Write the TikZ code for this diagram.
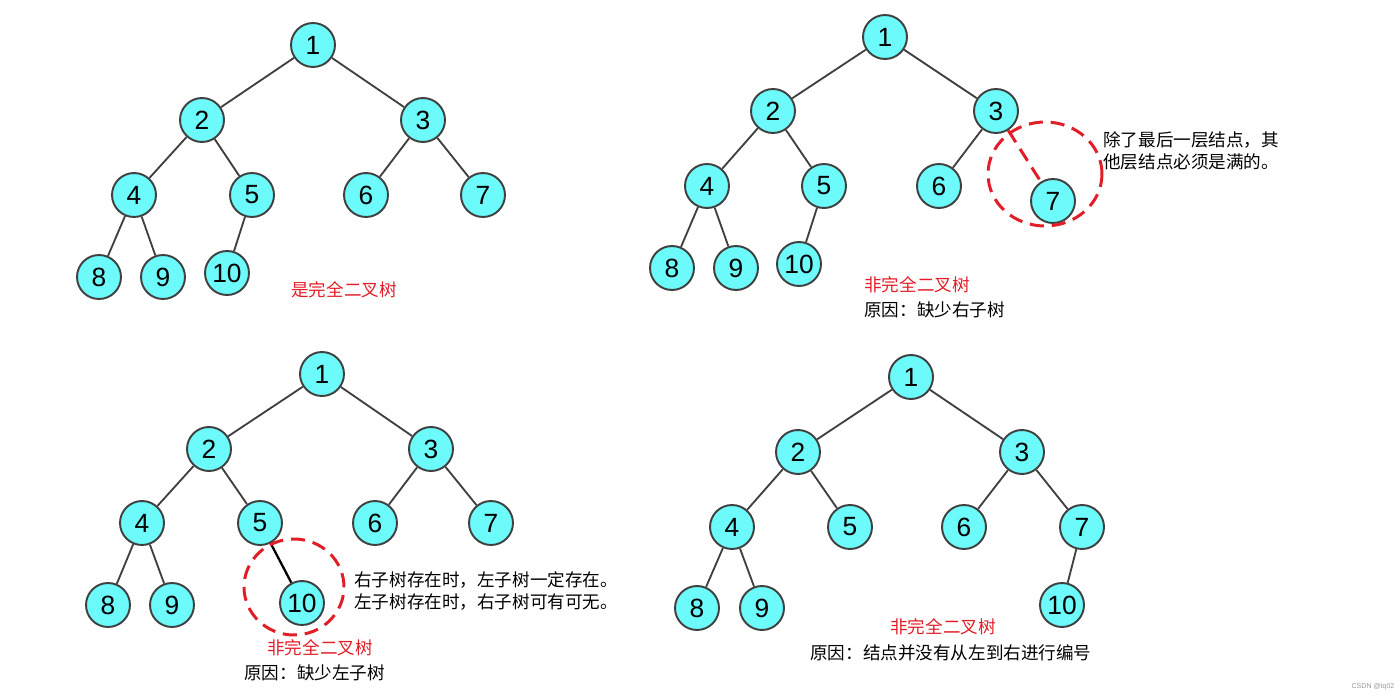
\documentclass[tikz,border=0pt]{standalone}
\usepackage{fontspec}
\setmainfont{Liberation Sans}
\newfontfamily\cjk{Noto Sans CJK SC}
\usetikzlibrary{shapes.geometric}
\definecolor{nodecyan}{RGB}{108,250,250}
\definecolor{edgegray}{RGB}{64,64,64}
\definecolor{markred}{RGB}{225,30,40}

\begin{document}
\begin{tikzpicture}[
  x=0.02cm, y=-0.02cm,
  knot/.style={circle, draw=edgegray, line width=1.1pt, fill=nodecyan,
    minimum size=0.88cm, inner sep=0pt, font=\fontsize{15}{15}\selectfont},
  link/.style={draw=edgegray, line width=1.05pt},
  ring/.style={ellipse, draw=markred, line width=1.7pt,
    dash pattern=on 8pt off 4.5pt, inner sep=0pt},
  note/.style={font=\cjk\fontsize{10}{12.6}\selectfont, align=left, inner sep=0pt},
  verdict/.style={note, text=markred},
]
\useasboundingbox (0,0) rectangle (1400,696);

% ---- tree (a): complete binary tree
\foreach \i/\x/\y in {1/313/45, 2/202/120, 3/423/120, 4/134/195, 5/252/195,
    6/366/195, 7/483/195, 8/99/277, 9/163/277, 10/227/273}
  \node[knot] (a\i) at (\x,\y) {\i};
\foreach \p/\c in {1/2,1/3,2/4,2/5,3/6,3/7,4/8,4/9,5/10}
  \draw[link] (a\p) -- (a\c);
\node[verdict] (averdict) at (344,290) {是完全二叉树};

% ---- tree (b): right subtree missing
\foreach \i/\x/\y in {1/885/37, 2/773/111, 3/996/111, 4/707/186, 5/824/186,
    6/939/186, 7/1053/201, 8/672/268, 9/736/268, 10/799/264}
  \node[knot] (b\i) at (\x,\y) {\i};
\foreach \p/\c in {1/2,1/3,2/4,2/5,3/6,4/8,4/9,5/10}
  \draw[link] (b\p) -- (b\c);
\draw[markred, line width=1.7pt, dash pattern=on 8pt off 4.5pt] (b3) -- (b7);
\node[ring, minimum width=2.28cm, minimum height=2.08cm] (bring) at (1045,174) {};
\node[note, anchor=west] (bnote) at (1103,151)
  {除了最后一层结点，其\\他层结点必须是满的。};
\node[verdict, anchor=west] (bverdict) at (864,285) {非完全二叉树};
\node[note, anchor=west] (breason) at (864,310) {原因：缺少右子树};

% ---- tree (c): left subtree missing
\foreach \i/\x/\y in {1/322/374, 2/209/449, 3/431/449, 4/142/523, 5/260/523,
    6/375/523, 7/491/523, 8/108/605, 9/172/605, 10/302/603}
  \node[knot] (c\i) at (\x,\y) {\i};
\foreach \p/\c in {1/2,1/3,2/4,2/5,3/6,3/7,4/8,4/9}
  \draw[link] (c\p) -- (c\c);
\draw[black, line width=1.3pt] (c5) -- (c10);
\node[ring, minimum width=2.0cm, minimum height=1.92cm] (cring) at (294,587) {};
\node[note, anchor=west] (cnote) at (354,591)
  {右子树存在时，左子树一定存在。\\左子树存在时，右子树可有可无。};
\node[verdict] (cverdict) at (320,648) {非完全二叉树};
\node[note, anchor=west] (creason) at (244,673) {原因：缺少左子树};

% ---- tree (d): not numbered left to right
\foreach \i/\x/\y in {1/911/377, 2/798/452, 3/1022/452, 4/732/527, 5/850/527,
    6/964/527, 7/1082/527, 8/697/608, 9/762/608, 10/1062/605}
  \node[knot] (d\i) at (\x,\y) {\i};
\foreach \p/\c in {1/2,1/3,2/4,2/5,3/6,3/7,4/8,4/9,7/10}
  \draw[link] (d\p) -- (d\c);
\node[verdict] (dverdict) at (943,627) {非完全二叉树};
\node[note, anchor=west] (dreason) at (810,653) {原因：结点并没有从左到右进行编号};

\node[font=\fontsize{4}{4}\selectfont, text=black!40] (mark) at (1373,687) {CSDN @tq02};
\end{tikzpicture}
\end{document}
